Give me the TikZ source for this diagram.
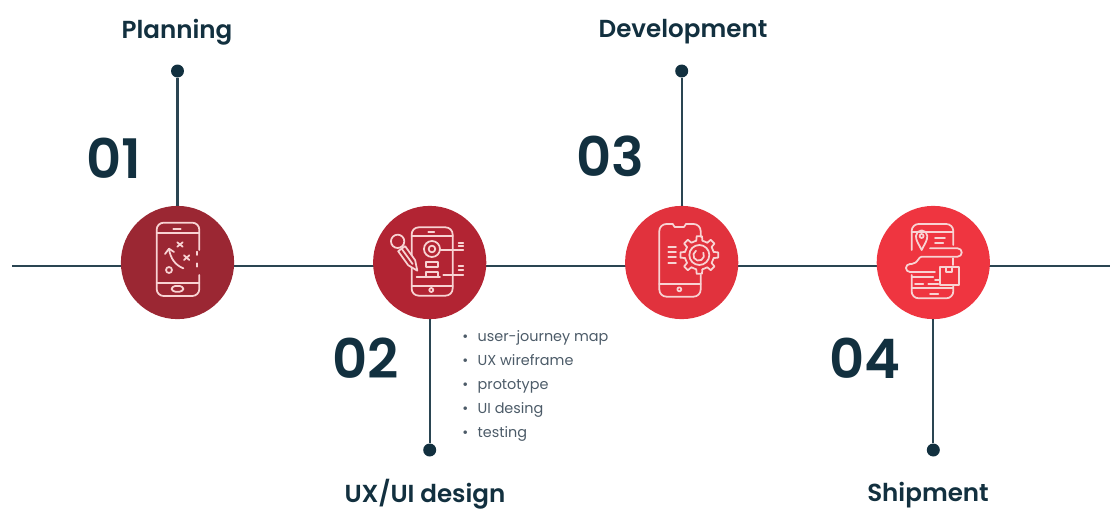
\documentclass[tikz,border=0pt]{standalone}
\usepackage{fontspec}
\setmainfont{Poppins}
\newfontfamily\titlefont{Poppins SemiBold}
\usepackage{color}

\definecolor{inkdark}{HTML}{12303F}
\definecolor{inkgrey}{HTML}{4C5B68}
\definecolor{stepone}{HTML}{9B2733}
\definecolor{steptwo}{HTML}{B22433}
\definecolor{stepthree}{HTML}{E1323D}
\definecolor{stepfour}{HTML}{EF3540}
\definecolor{iconline}{HTML}{F8D3D3}

\tikzset{
  axis/.style={inkdark!90, line width=1.2pt},
  stepcircle/.style={circle, inner sep=0pt, minimum size=2.265cm},
  enddot/.style={circle, fill=inkdark, inner sep=0pt, minimum size=0.26cm},
  steptitle/.style={inkdark, inner sep=0pt, anchor=base, font=\fontsize{14}{16}\titlefont},
  stepnumber/.style={inkdark, inner sep=0pt, anchor=base, font=\fontsize{31}{34}\titlefont},
  bulletitem/.style={inkgrey, inner sep=0pt, anchor=base west, font=\fontsize{8.2}{9}\selectfont},
  icon/.style={iconline, line width=1pt, line cap=round, line join=round},
  phone/.style={icon, rounded corners=4pt},
}

\begin{document}
\begin{tikzpicture}[x=0.02cm, y=-0.02cm]
\useasboundingbox (0,0) rectangle (1110,508);

\coordinate (axisL) at (12,266);
\coordinate (axisR) at (1110,266);
\draw[axis] (axisL) -- (axisR);

\node[stepcircle, fill=stepone] (planning) at (177.5,262.5) {};
\node[stepcircle, fill=steptwo] (design) at (429.7,262.5) {};
\node[stepcircle, fill=stepthree] (development) at (681.7,262.5) {};
\node[stepcircle, fill=stepfour] (shipment) at (933.3,262.5) {};

\node[enddot] (planningDot) at (177.5,71) {};
\node[enddot] (designDot) at (429.7,450) {};
\node[enddot] (developmentDot) at (681.7,71) {};
\node[enddot] (shipmentDot) at (933.3,450) {};

\draw[axis] (planningDot) -- (planning);
\draw[axis] (designDot) -- (design);
\draw[axis] (developmentDot) -- (development);
\draw[axis] (shipmentDot) -- (shipment);

\node[steptitle] (planningTitle) at (177,38) {Planning};
\node[steptitle] (designTitle) at (425,502) {UX/UI design};
\node[steptitle] (developmentTitle) at (683,37) {Development};
\node[steptitle] (shipmentTitle) at (928,501) {Shipment};

\node[stepnumber] (numOne) at (114,178) {01};
\node[stepnumber] (numTwo) at (366,378) {02};
\node[stepnumber] (numThree) at (610,176) {03};
\node[stepnumber] (numFour) at (865,378) {04};

\node[bulletitem] (itemOne) at (462,341) {•\hspace{0.65em}user-journey map};
\node[bulletitem] (itemTwo) at (462,365) {•\hspace{0.65em}UX wireframe};
\node[bulletitem] (itemThree) at (462,389) {•\hspace{0.65em}prototype};
\node[bulletitem] (itemFour) at (462,413) {•\hspace{0.65em}UI desing};
\node[bulletitem] (itemFive) at (462,437) {•\hspace{0.65em}testing};

\begin{scope}[shift={(100,200)}, scale=0.3333]
\draw[phone] (298,150) -- (298,68) -- (170,68) -- (170,288) -- (298,288) -- (298,225);
\draw[icon] (170,100) -- (298,100);
\draw[icon] (170,250) -- (298,250);
\draw[icon] (220,87) -- (242,87);
\draw[phone, rounded corners=2pt] (215,258) rectangle (250,275);
\draw[icon] (232,127) -- (248,140) (248,127) -- (232,140);
\draw[icon] (252,166) -- (268,180) (268,166) -- (252,180);
\draw[icon] (250,205) .. controls (225,195) and (212,175) .. (207,148);
\draw[icon] (195,162) -- (207,146) -- (222,156);
\draw[icon] (207,210) circle (9);
\draw[icon] (292,155) -- (292,165) (292,190) -- (292,200);

\draw[phone] (935,82) rectangle (1058,287);
\draw[icon] (935,108) -- (1058,108);
\draw[icon] (935,258) -- (1058,258);
\draw[icon] (985,95) -- (1003,95);
\draw[icon] (994,270) circle (6);
\draw[icon] (996,147) circle (24);
\draw[icon] (996,147) circle (10);
\draw[icon] (1022,150) -- (1075,150);
\draw[icon] (1076,128) -- (1090,128) (1076,139) -- (1090,139) (1076,150) -- (1090,150);
\draw[icon] (978,185) rectangle (1015,200);
\draw[icon] (978,215) rectangle (1015,232);
\draw[icon] (950,232) -- (1020,232);
\draw[icon] (1030,225) -- (1075,225);
\draw[icon] (1076,198) -- (1090,198) (1076,210) -- (1090,210) (1076,224) -- (1090,224);
\draw[icon, fill=steptwo] (915.5,138.5) -- (945.5,180.5) -- (952,212) -- (924.5,195.5) -- (894.5,153.5) -- cycle;
\draw[icon] (905,146) -- (938,192);
\draw[icon, fill=steptwo] (893,124) circle (20);
\end{scope}

\begin{scope}[shift={(610,200)}, scale=0.3333]
\draw[phone] (272,110) -- (272,72) -- (228,72);
\draw[phone] (188,72) -- (148,72) -- (148,290) -- (272,290) -- (272,225);
\draw[icon] (228,72) -- (222,81) -- (194,81) -- (188,72);
\draw[icon] (148,252) -- (272,252);
\draw[icon] (208,268) circle (6);
\draw[icon] (175,140) -- (198,140) (175,155) -- (198,155) (175,172) -- (198,172) (175,188) -- (198,188);
\foreach \tooth in {0,45,...,315} {
  \draw[icon] ([shift={(268,165)}]\tooth-12:44) -- ([shift={(268,165)}]\tooth-8:57) -- ([shift={(268,165)}]\tooth+8:57) -- ([shift={(268,165)}]\tooth+12:44) -- ([shift={(268,165)}]\tooth+33:44);
}
\draw[icon] (268,165) circle (30);
\draw[icon] (280,158) arc (-30:240:16);
\end{scope}

\begin{scope}[shift={(610,200)}, scale=0.3333]
\draw[phone] (905,150) -- (905,72) -- (1030,72) -- (1030,135);
\draw[icon] (1030,175) -- (1030,195);
\draw[phone] (1030,258) -- (1030,295) -- (905,295) -- (905,225);
\draw[icon] (905,95) -- (1030,95);
\draw[icon] (905,265) -- (1030,265);
\draw[icon] (935,150) .. controls (925,130) and (918,122) .. (918,108) arc (180:360:17) .. controls (952,122) and (945,130) .. (935,150);
\draw[icon] (935,108) circle (6);
\draw[icon] (975,113) -- (1005,113) (975,128) -- (1000,128);
\draw[icon] (960,145) -- (1043,145) arc (-90:90:12.5) -- (935,170) .. controls (925,170) and (925,190) .. (905,192) -- (900,192) arc (-90:-270:12) -- (975,216);
\draw[icon] (990,200) rectangle (1048,255);
\draw[icon] (1008,200) -- (1008,215) -- (1025,215) -- (1025,200);
\draw[icon] (905,232) -- (970,232) (975,240) -- (990,240);
\draw[icon] (915,252) -- (940,252) (955,252) -- (985,252);
\draw[icon] (960,282) -- (985,282);
\end{scope}
\end{tikzpicture}
\end{document}
